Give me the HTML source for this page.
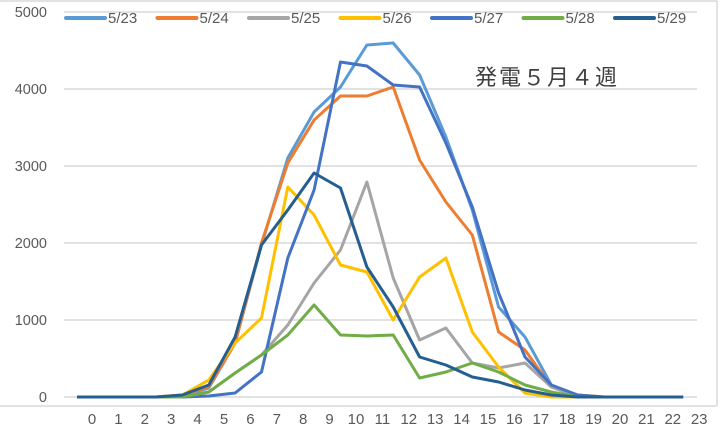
<!DOCTYPE html>
<html><head><meta charset="utf-8"><style>
html,body{margin:0;padding:0;background:#fff}
svg{display:block}
text{font-family:"Liberation Sans","Noto Sans CJK JP",sans-serif;fill:#595959}
</style></head><body>
<svg width="720" height="432" viewBox="0 0 720 432" xmlns="http://www.w3.org/2000/svg">
<rect x="0" y="0" width="720" height="432" fill="#fff"/>
<g stroke="#d9d9d9" stroke-width="1.5" fill="none">
<line x1="0" y1="1" x2="717" y2="1"/>
<line x1="717" y1="1" x2="717" y2="406"/>
<line x1="0" y1="406" x2="717" y2="406"/>
</g>
<g stroke="#d9d9d9" stroke-width="1.5">
<line x1="64" y1="12" x2="697" y2="12"/>
<line x1="64" y1="89" x2="697" y2="89"/>
<line x1="64" y1="166" x2="697" y2="166"/>
<line x1="64" y1="243" x2="697" y2="243"/>
<line x1="64" y1="320" x2="697" y2="320"/>
<line x1="64" y1="397" x2="697" y2="397"/>
</g>
<g font-size="14.5" text-anchor="end">
<text x="47" y="17">5000</text>
<text x="47" y="94">4000</text>
<text x="47" y="171">3000</text>
<text x="47" y="248">2000</text>
<text x="47" y="325">1000</text>
<text x="47" y="402">0</text>
</g>
<g font-size="15" text-anchor="middle" id="xl"></g>
<text x="475" y="85" font-size="22" style="fill:#404040;letter-spacing:2px">発電５月４週</text>
<g id="series" fill="none" stroke-width="3" stroke-linejoin="round"></g>
<g id="legend" font-size="15"></g>
</svg>
<script>
var ns="http://www.w3.org/2000/svg";
var xl=document.getElementById('xl');
for(var i=0;i<24;i++){var t=document.createElementNS(ns,'text');t.setAttribute('x',92+26.4*i);t.setAttribute('y',424);t.textContent=i;xl.appendChild(t);}
var B=397;
var S=[
["#5B9BD5",[B,B,B,B,396,388,343,245,158,112,87,45,43,75,137,210,307,337,385,B,B,B,B,B]],
["#ED7D31",[B,B,B,B,395,387,343,243,163,120,96,96,87,160,202,235,332,350,387,395,B,B,B,B]],
["#A5A5A5",[B,B,B,B,397,392,373,355,325,283,250,182,278,340,328,363,368,363,387,B,B,B,B,B]],
["#FFC000",[B,B,B,B,395,380,343,318,187,215,265,272,320,277,258,332,367,393,B,B,B,B,B,B]],
["#4472C4",[B,B,B,B,B,396,393,372,258,190,62,66,85,87,143,207,293,357,385,395,B,B,B,B]],
["#70AD47",[B,B,B,B,B,392,373,355,335,305,335,336,335,378,372,363,372,385,392,B,B,B,B,B]],
["#255E91",[B,B,B,B,395,385,337,245,210,173,188,267,307,357,365,377,382,390,395,B,B,B,B,B]]
];
var g=document.getElementById('series');
S.forEach(function(s){var p=document.createElementNS(ns,'polyline');
p.setAttribute('points',s[1].map(function(y,i){return (77+26.35*i).toFixed(1)+','+y}).join(' '));
p.setAttribute('stroke',s[0]);g.appendChild(p);});
var names=["5/23","5/24","5/25","5/26","5/27","5/28","5/29"];
var lg=document.getElementById('legend');
names.forEach(function(n,i){var x=64+91.5*i;
var l=document.createElementNS(ns,'line');l.setAttribute('x1',x+2);l.setAttribute('x2',x+41);l.setAttribute('y1',18);l.setAttribute('y2',18);l.setAttribute('stroke',S[i][0]);l.setAttribute('stroke-width',4);l.setAttribute('stroke-linecap','round');lg.appendChild(l);
var t=document.createElementNS(ns,'text');t.setAttribute('x',x+44);t.setAttribute('y',23);t.textContent=n;lg.appendChild(t);});
</script>
</body></html>
